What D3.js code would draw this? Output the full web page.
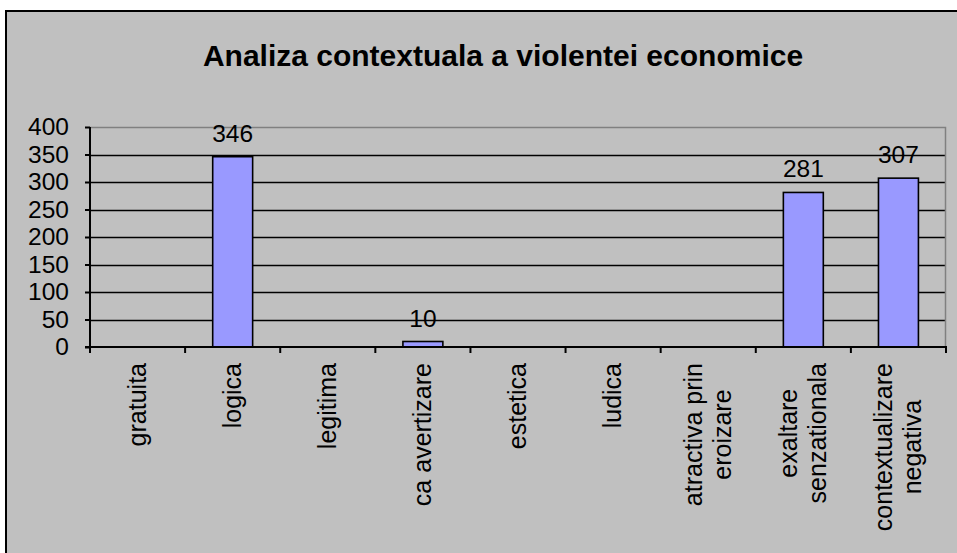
<!DOCTYPE html>
<html>
<head>
<meta charset="utf-8">
<script src="https://cdn.jsdelivr.net/npm/d3@7"></script>
<style>
  body { margin: 0; background: #fff; }
  text { font-family: "Liberation Sans", Arial, sans-serif; fill: #000; }
</style>
</head>
<body>
<script>
// chart data
const categories = ['gratuita', 'logica', 'legitima', 'ca avertizare', 'estetica', 'ludica',
    'atractiva prin eroizare', 'exaltare senzationala', 'contextualizare negativa'];
// labels that Excel wrapped on two lines
const categoryLines = [['gratuita'], ['logica'], ['legitima'], ['ca avertizare'], ['estetica'], ['ludica'],
    ['atractiva prin', 'eroizare'], ['exaltare', 'senzationala'], ['contextualizare', 'negativa']];
const values = [0, 346, 0, 10, 0, 0, 0, 281, 307];
const yTicks = [0, 50, 100, 150, 200, 250, 300, 350, 400];
const chartTitle = 'Analiza contextuala a violentei economice';

const W = 957, H = 553;
const plot = { left: 90, right: 946, top: 127, bottom: 347 };
const FONT = '"Liberation Sans", Arial, sans-serif';

const svg = d3.select('body').append('svg')
    .attr('width', W)
    .attr('height', H);

// chart area background + frame (runs off the right/bottom edge)
svg.append('rect')
    .attr('x', 6).attr('y', 11)
    .attr('width', W + 10).attr('height', H + 10)
    .attr('fill', '#c0c0c0')
    .attr('stroke', '#000')
    .attr('stroke-width', 2);

svg.append('text')
    .attr('x', 503)
    .attr('y', 66)
    .attr('text-anchor', 'middle')
    .style('font-size', '30px')
    .style('font-weight', 'bold')
    .text(chartTitle);

const x = d3.scaleBand()
    .domain(categories)
    .range([plot.left, plot.right])
    .paddingInner(0.58)
    .paddingOuter(0.29);

const xTicks = d3.scaleBand().domain(categories).range([plot.left, plot.right]);

const y = d3.scaleLinear()
    .domain([0, 400])
    .range([plot.bottom, plot.top]);

// grid
svg.append('g')
    .selectAll('line')
    .data(yTicks.filter(d => d > 0 && d < 400))
    .join('line')
    .attr('x1', plot.left).attr('x2', plot.right)
    .attr('y1', d => Math.round(y(d)) + 0.5).attr('y2', d => Math.round(y(d)) + 0.5)
    .attr('stroke', '#000')
    .attr('stroke-width', 1.6);

// gray top and right edge of the plot area
svg.append('path')
    .attr('d', `M${plot.left},${plot.top + 0.5}H${plot.right - 0.5}V${plot.bottom}`)
    .attr('fill', 'none')
    .attr('stroke', '#808080')
    .attr('stroke-width', 1.5);

const barData = values.map((v, i) => ({ v, c: categories[i] })).filter(d => d.v > 0);

// bars
svg.append('g')
    .selectAll('rect')
    .data(barData)
    .join('rect')
    .attr('x', d => x(d.c))
    .attr('y', d => y(d.v))
    .attr('width', x.bandwidth())
    .attr('height', d => y(0) - y(d.v))
    .attr('fill', '#9999ff')
    .attr('stroke', '#000')
    .attr('stroke-width', 1.6);

// value labels
svg.append('g')
    .selectAll('text')
    .data(barData)
    .join('text')
    .attr('x', d => x(d.c) + x.bandwidth() / 2)
    .attr('y', d => y(d.v) - 15)
    .attr('text-anchor', 'middle')
    .style('font-size', '24.5px')
    .text(d => d.v);

// y axis
const yAxis = d3.axisLeft(y)
    .tickValues(yTicks)
    .tickSize(5)
    .tickPadding(16);
const yAxisGroup = svg.append('g')
    .attr('transform', `translate(${plot.left},0)`)
    .call(yAxis);
yAxisGroup.select('.domain').attr('stroke-width', 2).attr('d', `M0,${plot.top}V${plot.bottom}`);
yAxisGroup.selectAll('.tick line').attr('stroke-width', 2);
yAxisGroup.selectAll('.tick text')
    .style('font-size', '24.5px')
    .style('font-family', FONT)
    .attr('fill', '#000');

// x axis: ticks on category boundaries
const xAxisGroup = svg.append('g')
    .attr('transform', `translate(0,${plot.bottom})`);
xAxisGroup.append('line')
    .attr('x1', plot.left - 5).attr('x2', plot.right + 1)
    .attr('stroke', '#000').attr('stroke-width', 2);
xAxisGroup.selectAll('.xtick')
    .data(categories.map(c => xTicks(c)).concat([plot.right]))
    .join('line')
    .attr('class', 'xtick')
    .attr('x1', d => d).attr('x2', d => d)
    .attr('y1', 0).attr('y2', 6)
    .attr('stroke', '#000').attr('stroke-width', 2);

// rotated category labels, lines centred on each other, block starts under the axis
const lineH = 29;
const labelGroups = xAxisGroup.selectAll('.xlabel')
    .data(categoryLines)
    .join('g')
    .attr('class', 'xlabel');

labelGroups.each(function (lines, i) {
    const g = d3.select(this);
    const cx = xTicks(categories[i]) + xTicks.bandwidth() / 2;
    const texts = g.selectAll('text')
        .data(lines)
        .join('text')
        .attr('text-anchor', 'middle')
        .style('font-size', '25px')
        .text(d => d);
    let maxLen = 0;
    texts.each(function () { maxLen = Math.max(maxLen, this.getComputedTextLength()); });
    const cy = 16 + maxLen / 2;
    const n = lines.length;
    texts.attr('transform', (d, j) => {
        const off = (j - (n - 1) / 2) * lineH;
        return `translate(${cx + off + 8},${cy}) rotate(-90)`;
    });
});
</script>
</body>
</html>
